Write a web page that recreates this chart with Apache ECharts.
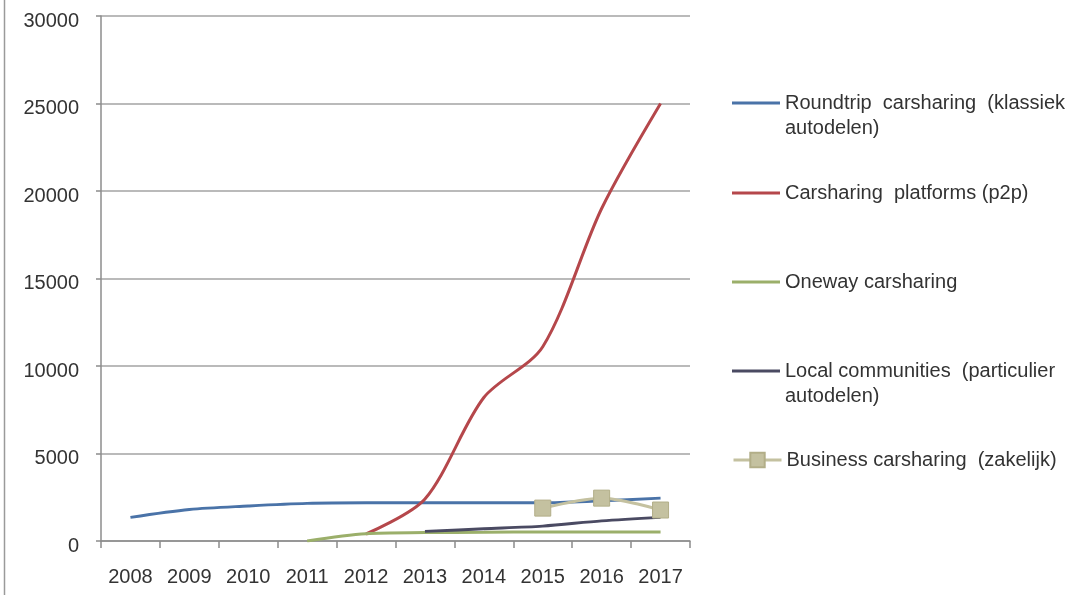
<!DOCTYPE html>
<html>
<head>
<meta charset="utf-8">
<script src="https://cdn.jsdelivr.net/npm/echarts@6/dist/echarts.min.js"></script>
<style>
html,body{margin:0;padding:0;background:#fff;}
#c{width:1077px;height:595px;}
</style>
</head>
<body>
<div id="c"></div>
<script>
const years = ['2008','2009','2010','2011','2012','2013','2014','2015','2016','2017'];
const roundtrip = [1350, 1800, 2000, 2150, 2180, 2180, 2180, 2180, 2300, 2450];
const p2p = [null, null, null, null, 400, 2400, 8200, 11100, 19000, 25000];
const oneway = [null, null, null, 0, 420, 480, 500, 520, 520, 520];
const local = [null, null, null, null, null, 550, 700, 850, 1150, 1350];
const business = [null, null, null, null, null, null, null, 1880, 2450, 1770];
const seriesNames = [
  'Roundtrip  carsharing  (klassiek\nautodelen)',
  'Carsharing  platforms (p2p)',
  'Oneway carsharing',
  'Local communities  (particulier\nautodelen)',
  'Business carsharing  (zakelijk)'
];
const colors = ['#4A73A8', '#B5474B', '#9BAF6A', '#4A4A62', '#C4C1A0'];

const chart = echarts.init(document.getElementById('c'));
const FONT = 'Liberation Sans';
const FS = 20;
const LH = 25;
const legendCenters = [103, 193, 282, 371, 460];
const LINE_ICON = 'path://M0,0H16V1H0Z';

function lineSeries(name, data, color, extra) {
  return Object.assign({
    name: name, type: 'line', data: data, smooth: 0.3,
    symbol: 'none', connectNulls: false,
    lineStyle: {color: color, width: 3},
    itemStyle: {color: color},
    z: 3
  }, extra || {});
}

const legends = seriesNames.map(function (name, i) {
  const twoLine = name.indexOf('\n') >= 0;
  const isBiz = (i === 4);
  const ih = isBiz ? 18 : 14;
  const h = twoLine ? 3 * LH : LH;
  const item = {name: name};
  if (!isBiz) item.icon = LINE_ICON;
  const lg = {
    orient: 'vertical', left: 732, top: legendCenters[i] - h / 2,
    padding: 0, itemWidth: 48, itemHeight: ih, itemGap: 0,
    selectedMode: false,
    formatter: function (n) { return n.indexOf('\n') >= 0 ? '\n' + n : n; },
    textStyle: {fontFamily: FONT, fontSize: FS, color: '#333', lineHeight: LH},
    data: [item]
  };
  if (isBiz) lg.lineStyle = {width: 3, color: colors[4]};
  return lg;
});

chart.setOption({
  animation: false,
  backgroundColor: '#fff',
  grid: {left: 101, top: 16, width: 589, height: 525},
  xAxis: {
    type: 'category', data: years, boundaryGap: true,
    axisLine: {lineStyle: {color: '#8c8c8c', width: 1.5}},
    axisTick: {show: true, length: 7, lineStyle: {color: '#8c8c8c', width: 1.5}},
    axisLabel: {color: '#333', fontFamily: FONT, fontSize: FS, margin: 26}
  },
  yAxis: {
    type: 'value', min: 0, max: 30000, interval: 5000,
    axisLine: {show: true, lineStyle: {color: '#8c8c8c', width: 1.5}},
    axisTick: {show: true, length: 5, lineStyle: {color: '#8c8c8c', width: 1.5}},
    splitLine: {lineStyle: {color: '#a3a3a3', width: 1.5}},
    axisLabel: {
      color: '#333', fontFamily: FONT, fontSize: FS, margin: 22,
      formatter: function (v) { return '{a|' + v + '}'; },
      rich: {a: {fontFamily: FONT, fontSize: FS, color: '#333', padding: [10, 0, 0, 0]}}
    }
  },
  legend: legends,
  graphic: [
    {type: 'line', shape: {x1: 4.5, y1: 0, x2: 4.5, y2: 595}, style: {stroke: '#9a9a9a', lineWidth: 1.5}}
  ],
  series: [
    lineSeries(seriesNames[0], roundtrip, colors[0]),
    lineSeries(seriesNames[1], p2p, colors[1]),
    lineSeries(seriesNames[2], oneway, colors[2]),
    lineSeries(seriesNames[3], local, colors[3]),
    lineSeries(seriesNames[4], business, colors[4], {
      symbol: 'rect', symbolSize: 16, showSymbol: true,
      itemStyle: {color: colors[4], borderColor: '#b2ae88', borderWidth: 1},
      z: 4
    })
  ]
});
</script>
</body>
</html>
